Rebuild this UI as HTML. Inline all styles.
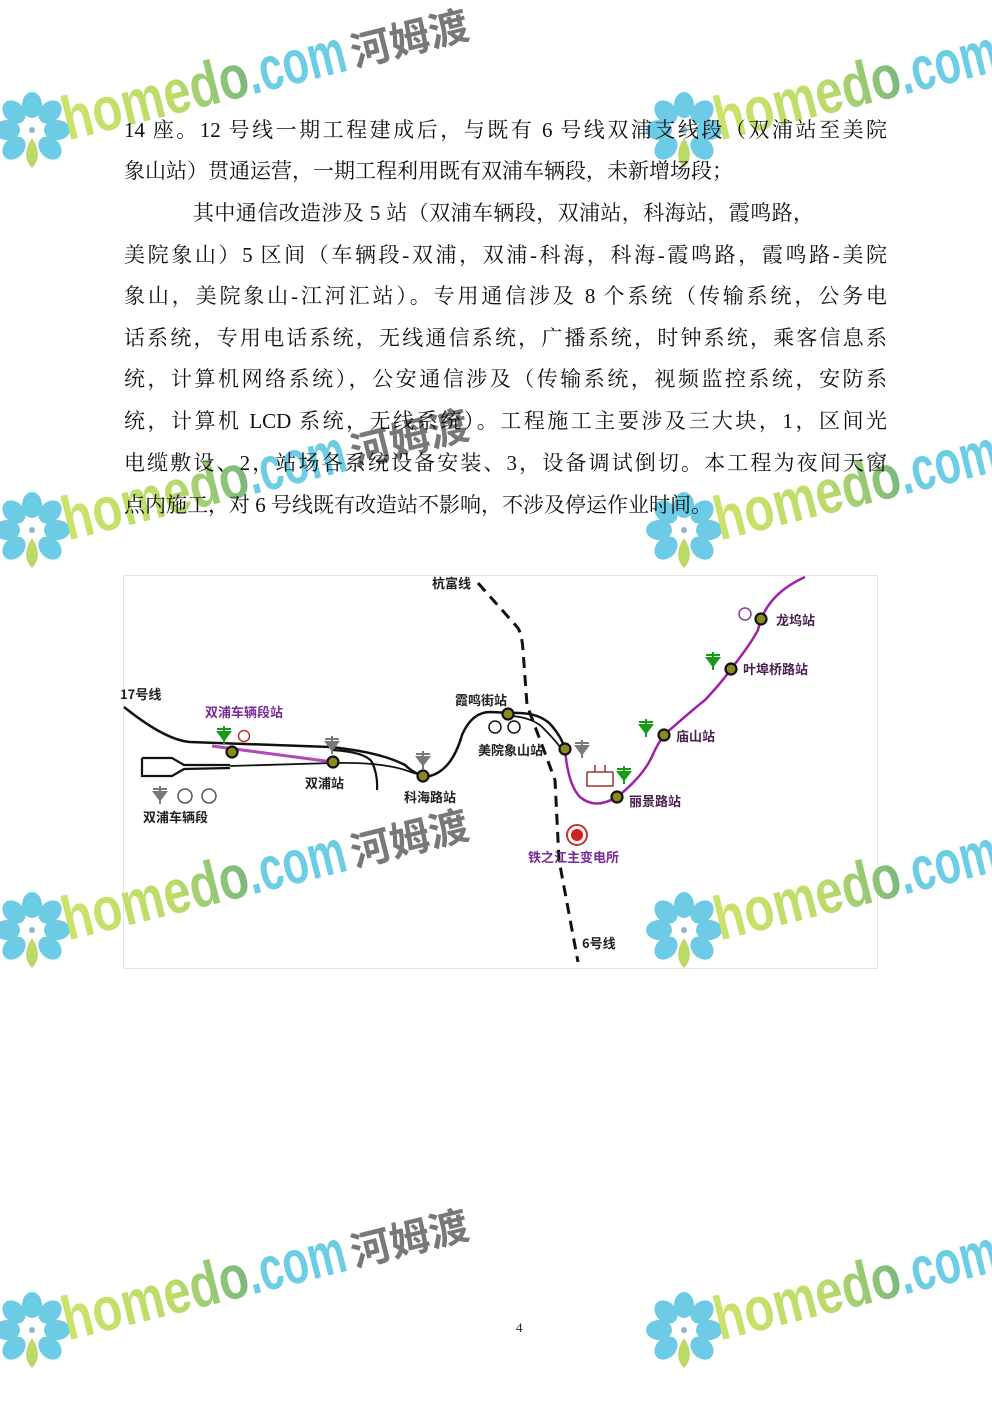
<!DOCTYPE html>
<html><head><meta charset="utf-8">
<style>
html,body{margin:0;padding:0;background:#fff;}
body{width:992px;height:1403px;position:relative;overflow:hidden;}
.wm{position:absolute;left:0;top:0;}
.t{position:absolute;left:124px;width:763px;font-family:"Liberation Serif","Noto Serif CJK SC",serif;font-size:21px;line-height:24px;color:#111;white-space:nowrap;text-align:justify;text-align-last:justify;}
.l{text-align:left;text-align-last:left;}
.pn{position:absolute;left:516px;top:1320px;font-family:"Liberation Serif",serif;font-size:13px;color:#222;}
</style></head><body>

<svg class="wm" width="992" height="1403" viewBox="0 0 992 1403">
<defs>
<linearGradient id="g1" x1="0" x2="1" y1="0" y2="0"><stop offset="0" stop-color="#c6e05a"/><stop offset="0.6" stop-color="#b4d85a"/><stop offset="1" stop-color="#6cb070"/></linearGradient>
<g id="fl">
<g fill="#5ec6e4">
<ellipse cx="32" cy="105" rx="10" ry="13"/>
<ellipse cx="50" cy="112" rx="10" ry="13" transform="rotate(45 50 112)"/>
<ellipse cx="57" cy="130" rx="13" ry="10"/>
<ellipse cx="50" cy="148" rx="10" ry="13" transform="rotate(-45 50 148)"/>
<ellipse cx="14" cy="112" rx="10" ry="13" transform="rotate(-45 14 112)"/>
<ellipse cx="7" cy="130" rx="13" ry="10"/>
<ellipse cx="14" cy="148" rx="10" ry="13" transform="rotate(45 14 148)"/>
</g>
<path d="M32 138 Q44 156 32 168 Q20 156 32 138Z" fill="#b5d65a"/>
<circle cx="32" cy="130" r="3" fill="#7fb0c0"/>
</g>
<g id="tg"><path d="M-7 -7 L7 -7 M-6 -4 L6 -4 L0 4 Z M0 -10 L0 8" stroke="#1a9a1a" stroke-width="2" fill="#1a9a1a"/></g>
<g id="tr"><path d="M-7 -7 L7 -7 M-6 -4 L6 -4 L0 4 Z M0 -10 L0 8" stroke="#7a7a7a" stroke-width="2" fill="#7a7a7a"/></g>
</defs>
</svg>

<svg class="wm" width="992" height="1403" viewBox="0 0 992 1403" style="opacity:.9">
<g>
<use href="#fl"/>
<g transform="rotate(-14 70 140)" font-family="Liberation Sans, DejaVu Sans, sans-serif" font-weight="bold">
<text x="68" y="140" font-size="62" fill="url(#g1)" textLength="190" lengthAdjust="spacingAndGlyphs">homedo</text>
<text x="258" y="140" font-size="62" fill="#5ec8e2" textLength="100" lengthAdjust="spacingAndGlyphs">.com</text>
<text x="364" y="138" font-size="40" font-weight="bold" fill="#6a6a6a" font-family="Noto Sans CJK SC, sans-serif">河姆渡</text>
</g>
</g>
<g transform="translate(652,0)"><use href="#fl"/>
<g transform="rotate(-14 70 140)" font-family="Liberation Sans, DejaVu Sans, sans-serif" font-weight="bold">
<text x="68" y="140" font-size="62" fill="url(#g1)" textLength="190" lengthAdjust="spacingAndGlyphs">homedo</text>
<text x="258" y="140" font-size="62" fill="#5ec8e2" textLength="100" lengthAdjust="spacingAndGlyphs">.com</text>
</g></g>
<g transform="translate(0,400)"><use href="#fl"/>
<g transform="rotate(-14 70 140)" font-family="Liberation Sans, DejaVu Sans, sans-serif" font-weight="bold">
<text x="68" y="140" font-size="62" fill="url(#g1)" textLength="190" lengthAdjust="spacingAndGlyphs">homedo</text>
<text x="258" y="140" font-size="62" fill="#5ec8e2" textLength="100" lengthAdjust="spacingAndGlyphs">.com</text>
<text x="364" y="138" font-size="40" font-weight="bold" fill="#6a6a6a" font-family="Noto Sans CJK SC, sans-serif">河姆渡</text>
</g></g>
<g transform="translate(652,400)"><use href="#fl"/>
<g transform="rotate(-14 70 140)" font-family="Liberation Sans, DejaVu Sans, sans-serif" font-weight="bold">
<text x="68" y="140" font-size="62" fill="url(#g1)" textLength="190" lengthAdjust="spacingAndGlyphs">homedo</text>
<text x="258" y="140" font-size="62" fill="#5ec8e2" textLength="100" lengthAdjust="spacingAndGlyphs">.com</text>
</g></g>
</svg>

<div class="t" style="top:118px">14 座。12 号线一期工程建成后，与既有 6 号线双浦支线段（双浦站至美院</div>
<div class="t l" style="top:159px">象山站）贯通运营，一期工程利用既有双浦车辆段，未新增场段；</div>
<div class="t l" style="top:201px;left:193px;letter-spacing:0.4px">其中通信改造涉及 5 站（双浦车辆段，双浦站，科海站，霞鸣路，</div>
<div class="t" style="top:243px">美院象山）5 区间（车辆段-双浦，双浦-科海，科海-霞鸣路，霞鸣路-美院</div>
<div class="t" style="top:284px">象山，美院象山-江河汇站）。专用通信涉及 8 个系统（传输系统，公务电</div>
<div class="t" style="top:326px">话系统，专用电话系统，无线通信系统，广播系统，时钟系统，乘客信息系</div>
<div class="t" style="top:367px">统，计算机网络系统），公安通信涉及（传输系统，视频监控系统，安防系</div>
<div class="t" style="top:409px">统，计算机 LCD 系统，无线系统）。工程施工主要涉及三大块，1，区间光</div>
<div class="t" style="top:451px">电缆敷设、2，站场各系统设备安装、3，设备调试倒切。本工程为夜间天窗</div>
<div class="t l" style="top:493px">点内施工，对 6 号线既有改造站不影响，不涉及停运作业时间。</div>

<svg class="wm" width="992" height="1403" viewBox="0 0 992 1403">
<rect x="123.5" y="575.5" width="754" height="393" fill="none" stroke="#e4e4e4"/>
<g font-family="Noto Sans CJK SC, sans-serif" font-size="13" font-weight="bold">
<!-- dashed line -->
<path d="M478 583 L518 628 Q522 635 523 650 L527 705 L555 780 L559 860 L578 962" fill="none" stroke="#111" stroke-width="3" stroke-dasharray="11,7"/>
<!-- black lines -->
<path d="M124 707 Q165 740 190 742 L330 747 Q380 752 405 765 Q418 777 430 776 Q452 770 462 735 Q472 712 490 712 L512 713 Q540 712 552 726 Q562 738 565 749" fill="none" stroke="#111" stroke-width="2.5"/>
<path d="M512 716 Q535 718 545 730 Q555 740 560 747" fill="none" stroke="#111" stroke-width="1.8"/>
<path d="M333 750 Q365 752 372 762 Q378 775 377 790" fill="none" stroke="#111" stroke-width="2.2"/>
<path d="M142 758 L172 758 L184 765 L230 765 M142 758 L142 776 L172 776 L184 769 L230 768" fill="none" stroke="#111" stroke-width="2.2"/>
<path d="M230 766 L333 763 Q380 762 405 770 L423 776" fill="none" stroke="#111" stroke-width="1.8"/>
<!-- purple -->
<path d="M212 746 L333 762" fill="none" stroke="#b24ab8" stroke-width="3"/>
<path d="M565 749 Q568 785 580 797 Q595 810 617 797 Q645 775 654 752 Q660 740 664 735 Q690 712 705 700 Q722 682 731 669 Q750 645 758 630 Q765 595 805 577" fill="none" stroke="#a020a8" stroke-width="2.5"/>
<!-- stations -->
<g fill="#8a8a1e" stroke="#111" stroke-width="2.2">
<circle cx="232" cy="752" r="5.5"/><circle cx="333" cy="762" r="5.5"/><circle cx="423" cy="776" r="5.5"/>
<circle cx="508" cy="714" r="5.5"/><circle cx="565" cy="749" r="5.5"/><circle cx="617" cy="797" r="5.5"/>
<circle cx="664" cy="735" r="5.5"/><circle cx="731" cy="669" r="5.5"/><circle cx="761" cy="619" r="5.5"/>
</g>
<!-- symbols -->
<use href="#tg" x="224" y="736"/>
<use href="#tg" x="713" y="662"/>
<use href="#tg" x="646" y="729"/>
<use href="#tg" x="624" y="776"/>
<use href="#tr" x="332" y="746"/>
<use href="#tr" x="423" y="761"/>
<use href="#tr" x="582" y="750"/>
<use href="#tr" x="160" y="796"/>
<circle cx="244" cy="736" r="5.5" fill="none" stroke="#c03030" stroke-width="1.5"/>
<circle cx="495" cy="727" r="6" fill="none" stroke="#111" stroke-width="1.5"/>
<circle cx="514" cy="727" r="6" fill="none" stroke="#111" stroke-width="1.5"/>
<circle cx="185" cy="796" r="7" fill="none" stroke="#555" stroke-width="1.5"/>
<circle cx="209" cy="796" r="7" fill="none" stroke="#555" stroke-width="1.5"/>
<circle cx="745" cy="614" r="6" fill="none" stroke="#8a3a9a" stroke-width="1.5"/>
<path d="M587 772 L587 786 L613 786 L613 772 M587 772 L613 772 M595 772 L595 765 M605 772 L605 765" fill="none" stroke="#a03030" stroke-width="1.5"/>
<circle cx="577" cy="835" r="10" fill="#fff" stroke="#d03030" stroke-width="2"/>
<circle cx="577" cy="835" r="6" fill="#d02020"/>
<!-- labels -->
<text x="432" y="588" fill="#222">杭富线</text>
<text x="120" y="699" fill="#222">17号线</text>
<text x="205" y="717" fill="#7a2a9a">双浦车辆段站</text>
<text x="305" y="788" fill="#222">双浦站</text>
<text x="404" y="802" fill="#222">科海路站</text>
<text x="455" y="705" fill="#222">霞鸣街站</text>
<text x="478" y="755" fill="#222">美院象山站</text>
<text x="676" y="741" fill="#4a2050">庙山站</text>
<text x="743" y="674" fill="#4a2050">叶埠桥路站</text>
<text x="776" y="625" fill="#4a2050">龙坞站</text>
<text x="629" y="806" fill="#4a2050">丽景路站</text>
<text x="143" y="822" fill="#222">双浦车辆段</text>
<text x="528" y="862" fill="#7a2a9a">铁之江主变电所</text>
<text x="582" y="948" fill="#222">6号线</text>
</g>
</svg>

<svg class="wm" width="992" height="1403" viewBox="0 0 992 1403" style="opacity:.9">
<g transform="translate(0,800)"><use href="#fl"/>
<g transform="rotate(-14 70 140)" font-family="Liberation Sans, DejaVu Sans, sans-serif" font-weight="bold">
<text x="68" y="140" font-size="62" fill="url(#g1)" textLength="190" lengthAdjust="spacingAndGlyphs">homedo</text>
<text x="258" y="140" font-size="62" fill="#5ec8e2" textLength="100" lengthAdjust="spacingAndGlyphs">.com</text>
<text x="364" y="138" font-size="40" font-weight="bold" fill="#6a6a6a" font-family="Noto Sans CJK SC, sans-serif">河姆渡</text>
</g></g>
<g transform="translate(652,800)"><use href="#fl"/>
<g transform="rotate(-14 70 140)" font-family="Liberation Sans, DejaVu Sans, sans-serif" font-weight="bold">
<text x="68" y="140" font-size="62" fill="url(#g1)" textLength="190" lengthAdjust="spacingAndGlyphs">homedo</text>
<text x="258" y="140" font-size="62" fill="#5ec8e2" textLength="100" lengthAdjust="spacingAndGlyphs">.com</text>
</g></g>
<g transform="translate(0,1200)"><use href="#fl"/>
<g transform="rotate(-14 70 140)" font-family="Liberation Sans, DejaVu Sans, sans-serif" font-weight="bold">
<text x="68" y="140" font-size="62" fill="url(#g1)" textLength="190" lengthAdjust="spacingAndGlyphs">homedo</text>
<text x="258" y="140" font-size="62" fill="#5ec8e2" textLength="100" lengthAdjust="spacingAndGlyphs">.com</text>
<text x="364" y="138" font-size="40" font-weight="bold" fill="#6a6a6a" font-family="Noto Sans CJK SC, sans-serif">河姆渡</text>
</g></g>
<g transform="translate(652,1200)"><use href="#fl"/>
<g transform="rotate(-14 70 140)" font-family="Liberation Sans, DejaVu Sans, sans-serif" font-weight="bold">
<text x="68" y="140" font-size="62" fill="url(#g1)" textLength="190" lengthAdjust="spacingAndGlyphs">homedo</text>
<text x="258" y="140" font-size="62" fill="#5ec8e2" textLength="100" lengthAdjust="spacingAndGlyphs">.com</text>
</g></g>
</svg>

<div class="pn">4</div>
</body></html>
